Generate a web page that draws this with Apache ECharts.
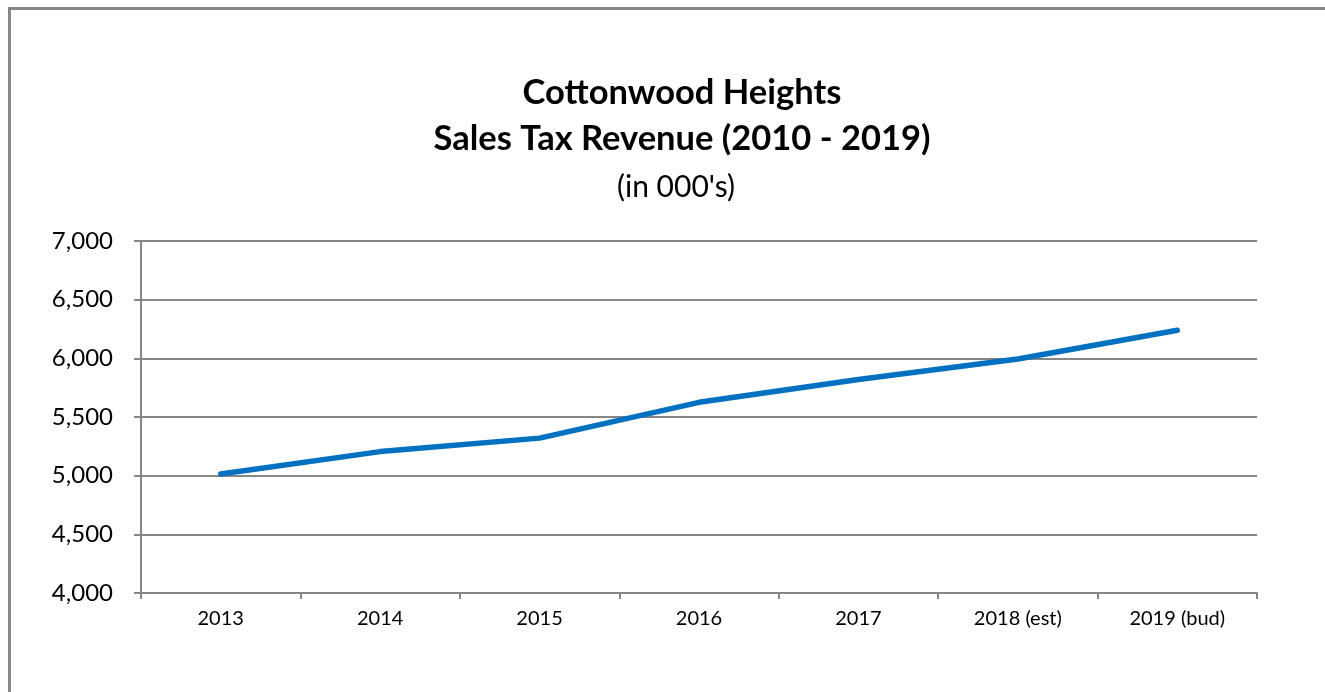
<!DOCTYPE html>
<html><head><meta charset="utf-8">
<script src="https://cdn.jsdelivr.net/npm/echarts@6/dist/echarts.min.js"></script>
<style>
html,body{margin:0;padding:0;background:#fff;}
#frame{position:absolute;left:8px;top:7px;width:1330px;height:700px;border-left:3px solid #878787;border-top:3px solid #878787;box-sizing:border-box;}
#chart{position:absolute;left:0;top:0;width:1325px;height:692px;}
</style></head>
<body>
<div id="frame"></div>
<div id="chart"></div>
<script>
const categories = ['2013','2014','2015','2016','2017','2018 (est)','2019 (bud)'];
const revenue = [5015, 5205, 5320, 5625, 5820, 5995, 6240];
const titleLines = ['Cottonwood Heights', 'Sales Tax Revenue (2010 - 2019)'];
const subtitle = "(in 000's)";

const font = 'Lato, "Open Sans", sans-serif';
const chart = echarts.init(document.getElementById('chart'));
chart.setOption({
  animation: false,
  title: [
    {text: titleLines[0], left: 677, top: 70, textAlign: 'center',
     textStyle: {fontFamily: font, fontSize: 34.5, fontWeight: 'bold', color: '#000'}},
    {text: titleLines[1], left: 677, top: 116, textAlign: 'center',
     textStyle: {fontFamily: font, fontSize: 34.5, fontWeight: 'bold', color: '#000'}},
    {text: subtitle, left: 671, top: 167, textAlign: 'center',
     textStyle: {fontFamily: font, fontSize: 30, fontWeight: 'normal', color: '#000'}}
  ],
  grid: {left: 141, right: 68, top: 241, bottom: 99, containLabel: false},
  xAxis: {
    type: 'category', data: categories, boundaryGap: true,
    axisLine: {lineStyle: {color: '#868686', width: 2}},
    axisTick: {show: true, length: 6, interval: 0, lineStyle: {color: '#868686', width: 2}},
    axisLabel: {fontFamily: font, fontSize: 20, color: '#000', margin: 16, interval: 0}
  },
  yAxis: {
    type: 'value', min: 4000, max: 7000, interval: 500,
    axisLine: {show: true, lineStyle: {color: '#868686', width: 2}},
    axisTick: {show: true, length: 7, lineStyle: {color: '#868686', width: 2}},
    splitLine: {lineStyle: {color: '#868686', width: 2}},
    axisLabel: {fontFamily: font, fontSize: 24, color: '#000', margin: 28,
      formatter: v => v.toLocaleString('en-US')}
  },
  series: [{
    type: 'line', data: revenue, symbol: 'none',
    lineStyle: {color: '#0070C0', width: 5.5, cap: 'round', join: 'round'}
  }]
});
</script>
</body></html>
